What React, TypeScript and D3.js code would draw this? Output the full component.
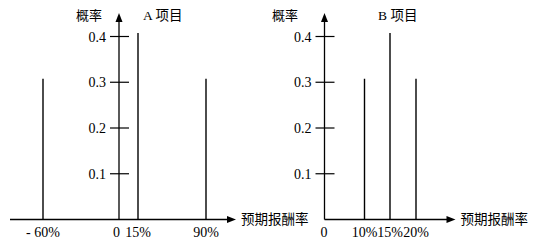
import React from "react";
import * as d3 from "d3";

// ---- data ----
const returnsA = [-60, 15, 90];
const probsA = [0.3, 0.4, 0.3];
const returnsB = [10, 15, 20];
const probsB = [0.3, 0.4, 0.3];
const yTicks = [0.1, 0.2, 0.3, 0.4];
const xLabelsA = [
  { v: -60, text: "- 60%" },
  { v: 15, text: "15%" },
  { v: 90, text: "90%" },
];
const xLabelsB = [
  { v: 10, text: "10%" },
  { v: 15, text: "15%" },
  { v: 20, text: "20%" },
];
const titleA = "A 项目";
const titleB = "B 项目";
const yTitle = "概率";
const xTitle = "预期报酬率";

const W = 543;
const H = 241;
const FONT = "Liberation Serif, DejaVu Serif, Noto Sans CJK SC, serif";
const FS = 14;

type PanelProps = {
  returns: number[];
  probs: number[];
  xLabels: { v: number; text: string }[];
  xDomain: number[];
  xRange: number[];
  axisX: number;
  xAxisStart: number;
  xAxisEnd: number;
  yTitleEnd: number;
  title: string;
  titleX: number;
  zeroLabelX: number;
};

const y = d3.scaleLinear().domain([0, 0.4]).range([219.5, 36.5]);
const OVERSHOOT = 3.5;

function Panel(p: PanelProps) {
  const xs = d3.scaleLinear().domain(p.xDomain).range(p.xRange);
  const y0 = y(0);
  const topY = 13;
  return (
    <g>
      {/* x axis */}
      <line x1={p.xAxisStart} x2={p.xAxisEnd - 8} y1={y0} y2={y0} stroke="#000" strokeWidth={1.3} />
      <path
        d={`M${p.xAxisEnd},${y0} L${p.xAxisEnd - 9},${y0 - 3.5} L${p.xAxisEnd - 9},${y0 + 3.5} Z`}
        fill="#000"
      />
      {/* y axis */}
      <line x1={p.axisX} x2={p.axisX} y1={y0} y2={topY + 8} stroke="#000" strokeWidth={1.3} />
      <path
        d={`M${p.axisX},${topY} L${p.axisX - 3.5},${topY + 9} L${p.axisX + 3.5},${topY + 9} Z`}
        fill="#000"
      />
      {/* y ticks */}
      {yTicks.map((t) => (
        <g key={t}>
          <line x1={p.axisX - 9} x2={p.axisX + 10} y1={y(t)} y2={y(t)} stroke="#000" strokeWidth={1.2} />
          <text
            x={p.axisX - 13}
            y={y(t) + 5}
            textAnchor="end"
            fontSize={FS}
            fontFamily={FONT}
          >
            {t.toFixed(1)}
          </text>
        </g>
      ))}
      {/* probability lines */}
      {p.returns.map((r, i) => (
        <line
          key={r}
          x1={xs(r)}
          x2={xs(r)}
          y1={y0}
          y2={y(p.probs[i]) - OVERSHOOT}
          stroke="#000"
          strokeWidth={1.4}
        />
      ))}
      {/* x labels */}
      <text x={p.zeroLabelX} y={237} textAnchor="middle" fontSize={FS} fontFamily={FONT}>
        0
      </text>
      {p.xLabels.map((l) => (
        <text
          key={l.text}
          x={xs(l.v)}
          y={237}
          textAnchor="middle"
          fontSize={FS}
          fontFamily={FONT}
        >
          {l.text}
        </text>
      ))}
      {/* titles */}
      <text x={p.yTitleEnd} y={20} textAnchor="end" fontSize={13} fontFamily={FONT}>
        {yTitle}
      </text>
      <text x={p.titleX} y={20} fontSize={13.5} fontFamily={FONT}>
        {p.title}
      </text>
      <text x={p.xAxisEnd + 5} y={y0 + 4} fontSize={13.5} fontFamily={FONT}>
        {xTitle}
      </text>
    </g>
  );
}

export default function App() {
  return (
    <div style={{ position: "fixed", left: 0, top: 0, width: W, height: H, background: "#fff" }}>
      <svg width={W} height={H} viewBox={`0 0 ${W} ${H}`} style={{ display: "block" }}>
        <rect width={W} height={H} fill="#fff" />
        <Panel
          returns={returnsA}
          probs={probsA}
          xLabels={xLabelsA}
          xDomain={[-60, 0, 15, 90]}
          xRange={[43, 119, 138, 206]}
          axisX={119}
          xAxisStart={10}
          xAxisEnd={236}
          yTitleEnd={102}
          title={titleA}
          titleX={143}
          zeroLabelX={116.5}
        />
        <Panel
          returns={returnsB}
          probs={probsB}
          xLabels={xLabelsB}
          xDomain={[0, 10, 15, 20]}
          xRange={[324.5, 364.5, 390, 416]}
          axisX={324.5}
          xAxisStart={324.5}
          xAxisEnd={455.5}
          yTitleEnd={298}
          title={titleB}
          titleX={378}
          zeroLabelX={324}
        />
      </svg>
    </div>
  );
}
